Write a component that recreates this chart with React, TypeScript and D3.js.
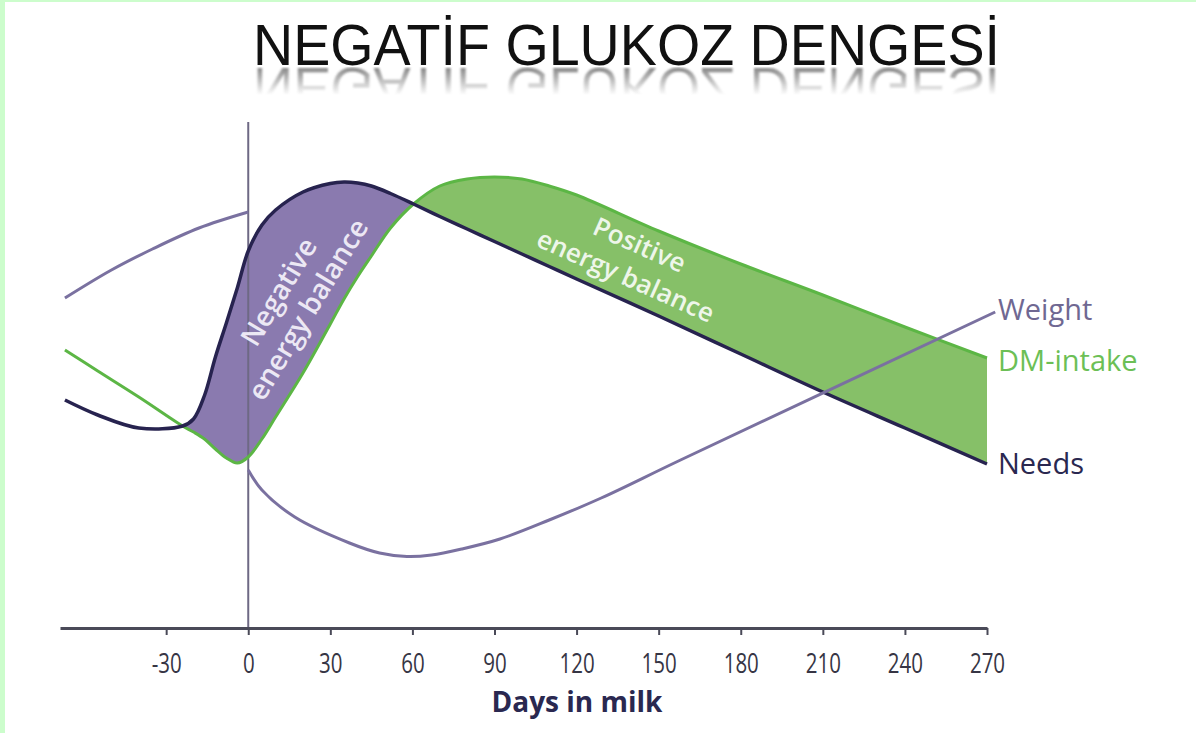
import React, { useEffect, useRef } from "react";
import * as d3 from "d3";

// ---- data (chart units: days in milk, relative level 0-100) ----
const days = [-67, -55, -40, -24, -20, -16, -12, -8, -4, 0, 5, 10, 20, 30, 35, 40, 45, 52, 60.4, 70, 80, 90, 100, 110, 120, 150, 180, 210, 240, 270];
const dmIntake = [55.6, 51.4, 46.2, 40.4, 39.2, 37.8, 35.8, 34.0, 33.0, 34.2, 37.8, 42.2, 51, 60.8, 65.8, 70.3, 74.4, 80, 84.8, 88.4, 89.8, 90.2, 89.8, 88.4, 86.6, 79.4, 72.8, 66.6, 60.2, 54];
const needs = [45.6, 42.6, 40, 40.4, 41.8, 46.5, 54.2, 61.0, 68.0, 75.4, 80.6, 83.6, 87.2, 88.9, 89.2, 89.0, 88.4, 86.9, 84.8, 82.3, 79.8, 77.3, 74.8, 72.3, 69.8, 62.4, 54.8, 47.2, 40, 32.8];
const crossNegStart = -24;
const crossNegEnd = 60.4;

const weightPreDays = [-67, -50, -35, -18, 0];
const weightPre = [66, 71.6, 75.8, 80, 83.2];
const weightPostDays = [0, 5, 17, 37, 48, 58, 67, 78, 92, 110, 129, 158, 273];
const weightPost = [31.6, 27.6, 22.2, 17, 15, 14.3, 14.6, 15.8, 17.8, 21.6, 26, 33.6, 63.2];

const tickValues = [-30, 0, 30, 60, 90, 120, 150, 180, 210, 240, 270];
const title = "NEGATİF GLUKOZ DENGESİ";
const xLabel = "Days in milk";
const seriesLabels = { weight: "Weight", dm: "DM-intake", needs: "Needs" };
const negLines = ["Negative", "energy balance"];
const posLines = ["Positive", "energy balance"];

const W = 1198;
const H = 733;

type P = { d: number; dm: number; nd: number };

export default function App() {
  const axisRef = useRef<SVGGElement>(null);

  const x = d3.scaleLinear().domain([-68.8, 270]).range([60, 987]);
  const y = d3.scaleLinear().domain([0, 100]).range([628, 128]);
  const curve = d3.curveCatmullRom.alpha(0.5);

  const pts: P[] = days.map((d, i) => ({ d, dm: dmIntake[i], nd: needs[i] }));

  const area = d3
    .area<P>()
    .x((p) => x(p.d))
    .y0((p) => y(p.nd))
    .y1((p) => y(p.dm))
    .curve(curve);

  const lineOf = (key: "dm" | "nd") =>
    d3
      .line<P>()
      .x((p) => x(p.d))
      .y((p) => y(p[key]))
      .curve(curve)(pts) || "";

  const simpleLine = (ds: number[], vs: number[]) =>
    d3
      .line<number>()
      .x((_, i) => x(ds[i]))
      .y((v) => y(v))
      .curve(curve)(vs) || "";

  useEffect(() => {
    if (!axisRef.current) return;
    const g = d3.select(axisRef.current);
    g.selectAll("*").remove();
    g.call(
      d3
        .axisBottom(x)
        .tickValues(tickValues)
        .tickSize(7)
        .tickSizeOuter(0)
        .tickFormat((d) => String(d))
    );
    g.select(".domain").attr("stroke", "#4a4a58").attr("stroke-width", 3);
    g.selectAll(".tick line").attr("stroke", "#4a4a58").attr("stroke-width", 2);
    g.selectAll(".tick text")
      .attr("y", 0)
      .attr("dy", 0)
      .attr("transform", "translate(0,45) scale(0.76,1)")
      .attr("fill", "#363544")
      .attr("font-size", 27)
      .attr("font-family", "'Open Sans', sans-serif");
  }, []);

  const titleProps = {
    x: 253,
    textLength: 747,
    lengthAdjust: "spacingAndGlyphs" as const,
    fontFamily: "'Liberation Sans', Arial, sans-serif",
    fontSize: 57,
  };

  return (
    <div style={{ position: "absolute", left: 0, top: 0 }}>
      <svg width={W} height={H} style={{ display: "block", background: "#fff" }}>
        <defs>
          <linearGradient id="reflGrad" x1="0" y1="0" x2="0" y2="1">
            <stop offset="0" stopColor="#fff" stopOpacity="0.6" />
            <stop offset="1" stopColor="#fff" stopOpacity="0" />
          </linearGradient>
          <mask id="reflMask">
            <rect x={0} y={67} width={W} height={28} fill="url(#reflGrad)" />
          </mask>
          <filter id="blur1">
            <feGaussianBlur stdDeviation="1" />
          </filter>
          <clipPath id="negClip">
            <rect x={x(crossNegStart)} y={0} width={x(crossNegEnd) - x(crossNegStart)} height={H} />
          </clipPath>
          <clipPath id="posClip">
            <rect x={x(crossNegEnd)} y={0} width={x(270) - x(crossNegEnd)} height={H} />
          </clipPath>
        </defs>

        {/* frame */}
        <rect x={0} y={0} width={5} height={H} fill="#ccfdcc" />
        <rect x={0} y={0} width={1196} height={2} fill="#ccfdcc" />

        {/* title + reflection */}
        <text {...titleProps} y={65} fill="#111">
          {title}
        </text>
        <g mask="url(#reflMask)" filter="url(#blur1)">
          <text {...titleProps} y={65} fill="#333" transform="translate(0,133) scale(1,-1)">
            {title}
          </text>
        </g>

        {/* fills */}
        <path d={area(pts) || ""} fill="#8a7aaf" clipPath="url(#negClip)" />
        <path d={area(pts) || ""} fill="#86c068" clipPath="url(#posClip)" />

        {/* calving line */}
        <line x1={x(0)} x2={x(0)} y1={122} y2={628} stroke="#6e6984" strokeWidth={2} />

        {/* lines */}
        <path d={lineOf("dm")} fill="none" stroke="#5cb645" strokeWidth={3} />
        <path d={lineOf("nd")} fill="none" stroke="#27234f" strokeWidth={3.5} />
        <path d={simpleLine(weightPreDays, weightPre)} fill="none" stroke="#7a71a0" strokeWidth={3} />
        <path d={simpleLine(weightPostDays, weightPost)} fill="none" stroke="#7a71a0" strokeWidth={3} />

        {/* area labels */}
        <g
          transform="translate(294,301) rotate(-59)"
          fill="#ece8f4"
          fontFamily="'Open Sans', sans-serif"
          fontSize={28}
          fontWeight={600}
          textAnchor="middle"
        >
          <text y={-8}>{negLines[0]}</text>
          <text y={26}>{negLines[1]}</text>
        </g>
        <g
          transform="translate(632.5,260.5) rotate(24)"
          fill="#eef6ea"
          fontFamily="'Open Sans', sans-serif"
          fontSize={26}
          fontWeight={600}
          textAnchor="middle"
        >
          <text y={-8}>{posLines[0]}</text>
          <text y={26}>{posLines[1]}</text>
        </g>

        {/* series labels */}
        <g fontFamily="'Open Sans', sans-serif" fontSize={29}>
          <text x={998} y={320} fill="#6f6892">
            {seriesLabels.weight}
          </text>
          <text x={998} y={371} fill="#6cbf56">
            {seriesLabels.dm}
          </text>
          <text x={998} y={474} fill="#2a2850">
            {seriesLabels.needs}
          </text>
        </g>

        {/* axis */}
        <g ref={axisRef} transform="translate(0,628)" />
        <text
          x={577}
          y={712}
          textAnchor="middle"
          fontFamily="'Open Sans', sans-serif"
          fontWeight="bold"
          fontSize={28}
          fill="#2a2850"
        >
          {xLabel}
        </text>
      </svg>
    </div>
  );
}
